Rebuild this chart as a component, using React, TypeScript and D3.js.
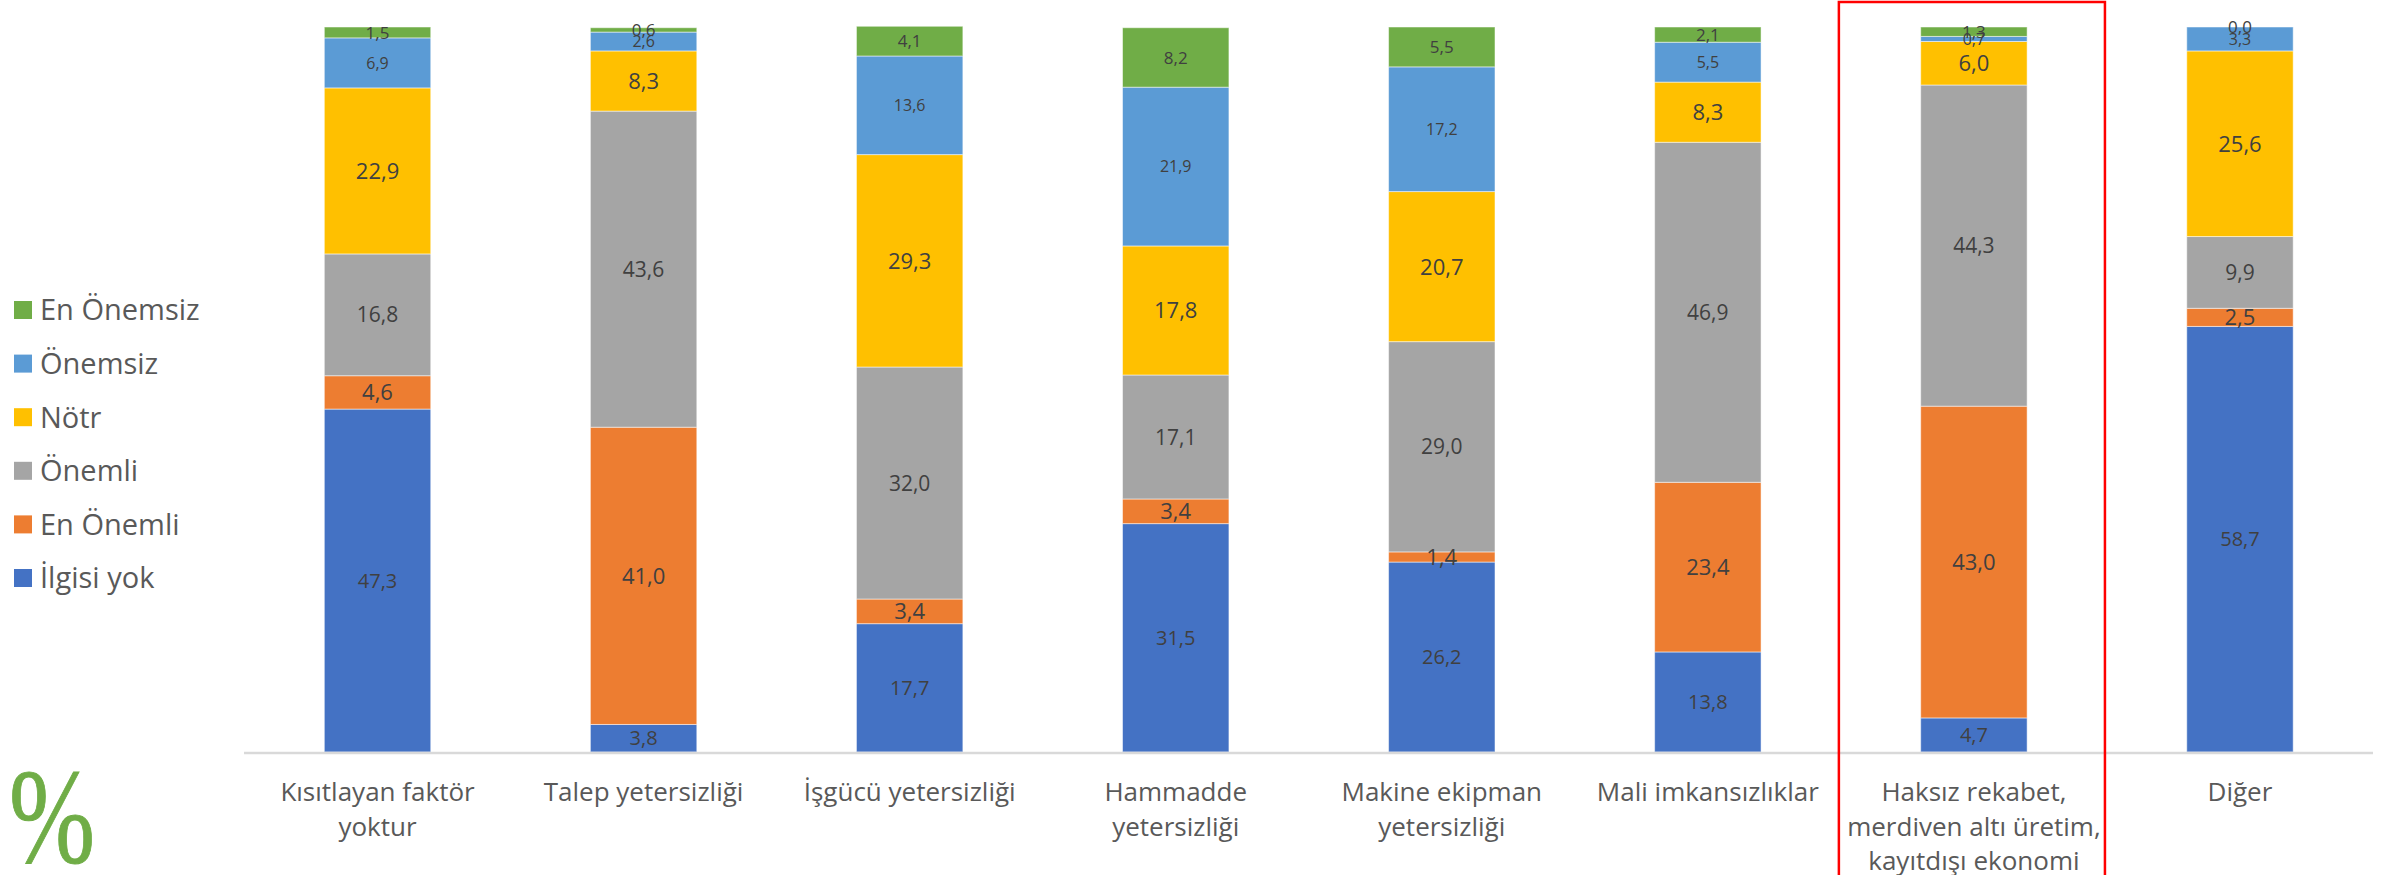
import React, { useEffect, useRef } from 'react';
import * as d3 from 'd3';

const categories = [
  ['Kısıtlayan faktör', 'yoktur'],
  ['Talep yetersizliği'],
  ['İşgücü yetersizliği'],
  ['Hammadde', 'yetersizliği'],
  ['Makine ekipman', 'yetersizliği'],
  ['Mali imkansızlıklar'],
  ['Haksız rekabet,', 'merdiven altı üretim,', 'kayıtdışı ekonomi'],
  ['Diğer'],
];

// bottom to top stacking order
const seriesNames = ['İlgisi yok', 'En Önemli', 'Önemli', 'Nötr', 'Önemsiz', 'En Önemsiz'];
const seriesColors = ['#4472C4', '#ED7D31', '#A5A5A5', '#FFC000', '#5B9BD5', '#70AD47'];

const ilgisiYok = [47.3, 3.8, 17.7, 31.5, 26.2, 13.8, 4.7, 58.7];
const enOnemli = [4.6, 41.0, 3.4, 3.4, 1.4, 23.4, 43.0, 2.5];
const onemli = [16.8, 43.6, 32.0, 17.1, 29.0, 46.9, 44.3, 9.9];
const notr = [22.9, 8.3, 29.3, 17.8, 20.7, 8.3, 6.0, 25.6];
const onemsiz = [6.9, 2.6, 13.6, 21.9, 17.2, 5.5, 0.7, 3.3];
const enOnemsiz = [1.5, 0.6, 4.1, 8.2, 5.5, 2.1, 1.3, 0.0];

const highlighted = 6;

const W = 2402;
const H = 875;
const FONT = '"Open Sans", "Noto Sans", sans-serif';

export default function App() {
  const svgRef = useRef<SVGSVGElement>(null);

  useEffect(() => {
    if (!svgRef.current) return;
    const svg = d3.select(svgRef.current);
    svg.selectAll('*').remove();

    const allSeries = [ilgisiYok, enOnemli, onemli, notr, onemsiz, enOnemsiz];
    const labelSizes = [20, 22, 21, 22, 16, 17];

    const x = d3.scaleBand<number>()
      .domain(d3.range(categories.length))
      .range([244.5, 2373])
      .padding(0);
    const barW = x.bandwidth() * 0.4;

    const y = d3.scaleLinear().domain([0, 100]).range([752, 27]);

    const table = categories.map((_, i) => {
      const row: Record<string, number> = {};
      seriesNames.forEach((s, k) => { row[s] = allSeries[k][i]; });
      return row;
    });
    const stacked = d3.stack<Record<string, number>>().keys(seriesNames)(table);

    const plot = svg.append('g');

    stacked.forEach((layer, k) => {
      plot.append('g')
        .selectAll('rect')
        .data(layer)
        .join('rect')
        .attr('x', (_, i) => (x(i) as number) + (x.bandwidth() - barW) / 2)
        .attr('width', barW)
        .attr('y', d => y(d[1]))
        .attr('height', d => Math.max(0, y(d[0]) - y(d[1])))
        .attr('fill', seriesColors[k])
        .attr('stroke', '#ffffff')
        .attr('stroke-opacity', 0.5)
        .attr('stroke-width', 1);
    });

    // data labels
    stacked.forEach((layer, k) => {
      plot.append('g')
        .selectAll('text')
        .data(layer)
        .join('text')
        .attr('x', (_, i) => (x(i) as number) + x.bandwidth() / 2)
        .attr('y', d => (y(d[0]) + y(d[1])) / 2)
        .attr('dy', '0.36em')
        .attr('text-anchor', 'middle')
        .attr('font-family', FONT)
        .attr('font-size', labelSizes[k])
        .attr('fill', '#404040')
        .text((d, i) => allSeries[k][i].toFixed(1).replace('.', ','));
    });

    // axis line
    plot.append('line')
      .attr('x1', 244)
      .attr('x2', 2373)
      .attr('y1', y(0) + 1)
      .attr('y2', y(0) + 1)
      .attr('stroke', '#D9D9D9')
      .attr('stroke-width', 2.5);

    // category labels
    const catG = plot.append('g');
    categories.forEach((lines, i) => {
      const t = catG.append('text')
        .attr('text-anchor', 'middle')
        .attr('font-family', FONT)
        .attr('font-size', 26)
        .attr('fill', '#595959');
      lines.forEach((ln, j) => {
        t.append('tspan')
          .attr('x', (x(i) as number) + x.bandwidth() / 2)
          .attr('y', 801 + j * 34.5)
          .text(ln);
      });
    });

    // highlight box
    plot.append('rect')
      .attr('x', (x(highlighted) as number) - 2)
      .attr('y', 2)
      .attr('width', x.bandwidth())
      .attr('height', H + 10)
      .attr('fill', 'none')
      .attr('stroke', '#FF0000')
      .attr('stroke-width', 2.5);

    // legend (top entry = last series)
    const legend = svg.append('g');
    const legendOrder = d3.range(seriesNames.length).reverse();
    legendOrder.forEach((k, r) => {
      const cy = 310 + r * 53.6;
      legend.append('rect')
        .attr('x', 14)
        .attr('y', cy - 9)
        .attr('width', 18)
        .attr('height', 18)
        .attr('fill', seriesColors[k]);
      legend.append('text')
        .attr('x', 40)
        .attr('y', cy)
        .attr('dy', '0.36em')
        .attr('font-family', FONT)
        .attr('font-size', 29)
        .attr('fill', '#595959')
        .text(seriesNames[k]);
    });

    // percent mark
    svg.append('text')
      .attr('transform', 'translate(9,862) scale(0.76,1)')
      .attr('font-family', '"Liberation Serif", "DejaVu Serif", serif')
      .attr('font-size', 136)
      .attr('fill', '#70AD47')
      .attr('stroke', '#70AD47')
      .attr('stroke-width', 1)
      .text('%');
  }, []);

  return (
    <div style={{ position: 'absolute', left: 0, top: 0 }}>
      <svg ref={svgRef} width={W} height={H} style={{ display: 'block', background: '#ffffff' }} />
    </div>
  );
}
